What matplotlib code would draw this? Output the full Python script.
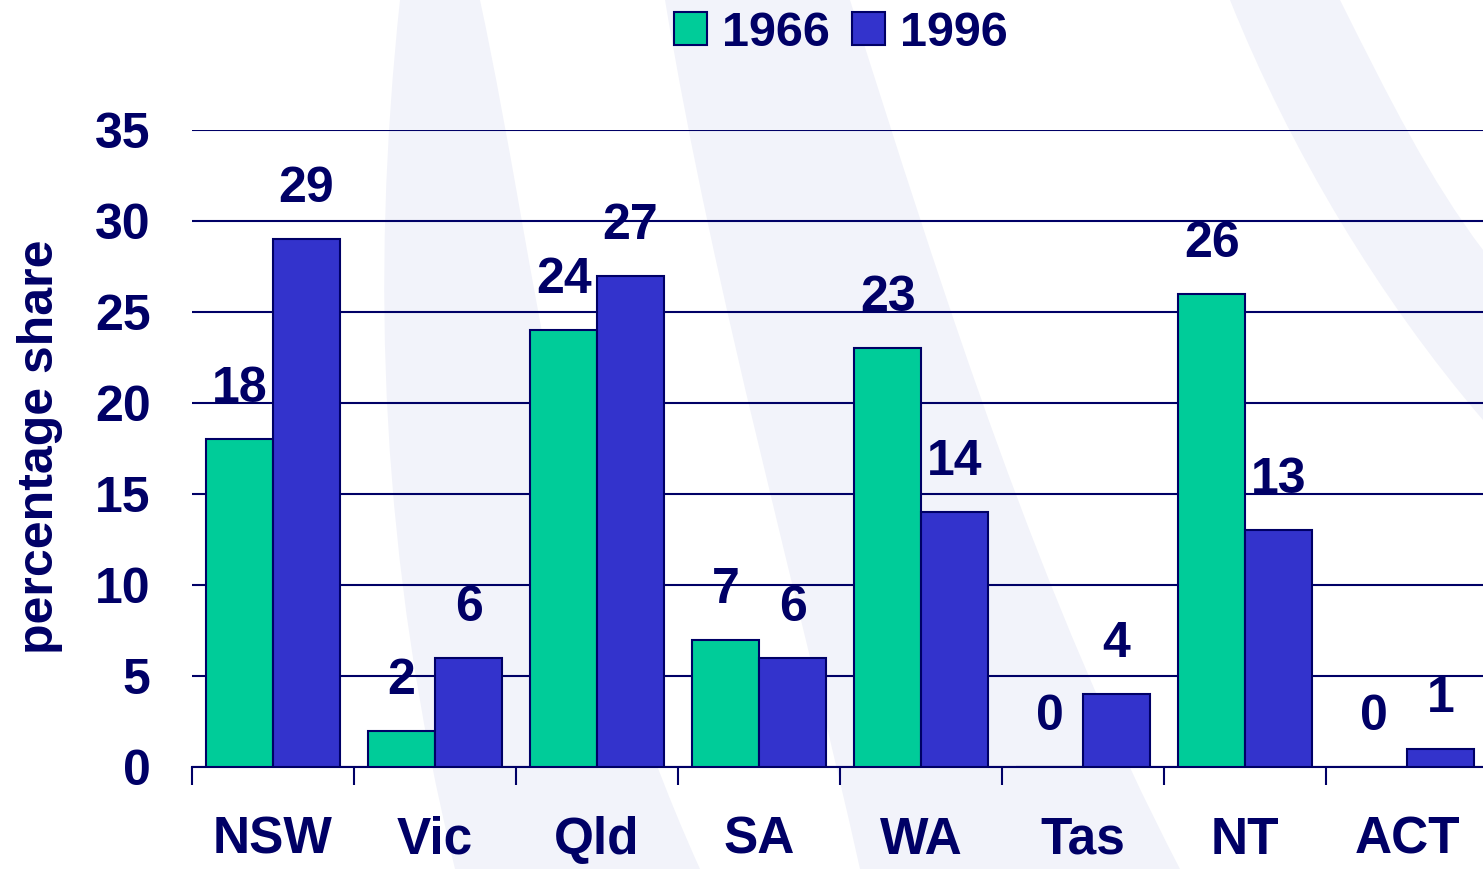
import numpy as np
import matplotlib
matplotlib.use("Agg")
import matplotlib.pyplot as plt
from matplotlib.patches import Patch, PathPatch
from matplotlib.path import Path

states = ["NSW", "Vic", "Qld", "SA", "WA", "Tas", "NT", "ACT"]
share_1966 = [18, 2, 24, 7, 23, 0, 26, 0]
share_1996 = [29, 6, 27, 6, 14, 4, 13, 1]
yticks = [0, 5, 10, 15, 20, 25, 30, 35]

navy = "#000066"
green = "#00CC99"
blue = "#3333CC"
narrow = ["Liberation Sans Narrow", "Liberation Sans", "DejaVu Sans"]
wide = ["Liberation Sans", "DejaVu Sans"]

W, H = 1483, 869
fig = plt.figure(figsize=(W / 100, H / 100), dpi=100)

# faint background swooshes (watermark), in pixel coords from the top-left
swooshes = [
    ([(400, 0), (370, 280), (380, 560), (455, 869)], [(700, 869), (560, 560), (540, 280), (480, 0)]),
    ([(665, 0), (715, 300), (800, 600), (860, 869)], [(1180, 869), (1040, 600), (945, 300), (850, 0)]),
    ([(1230, 0), (1290, 150), (1380, 300), (1483, 420)], [(1483, 250), (1430, 180), (1390, 100), (1340, 0)]),
]
for left, right in swooshes:
    pts = [(px / W, 1 - py / H) for px, py in left + right]
    codes = [Path.MOVETO, Path.CURVE4, Path.CURVE4, Path.CURVE4,
             Path.LINETO, Path.CURVE4, Path.CURVE4, Path.CURVE4]
    pts.append(pts[0])
    codes.append(Path.CLOSEPOLY)
    fig.add_artist(PathPatch(Path(pts, codes), facecolor="#F2F3FA", edgecolor="none",
                             transform=fig.transFigure, zorder=-5))

ax = fig.add_axes([0.1295, 0.1174, 0.874, 0.733])

x = np.arange(len(states))
w = 0.413
ax.bar(x - w / 2, share_1966, w, color=green, edgecolor=navy, linewidth=1.5, zorder=3)
ax.bar(x + w / 2, share_1996, w, color=blue, edgecolor=navy, linewidth=1.5, zorder=3)

for xi, v in zip(x - w / 2, share_1966):
    ax.annotate(str(v), (xi, v), xytext=(0, 36), textcoords="offset points",
                ha="center", va="center", fontsize=36, fontweight="bold",
                color=navy, family=narrow, zorder=4)
for xi, v in zip(x + w / 2, share_1996):
    ax.annotate(str(v), (xi, v), xytext=(0, 36), textcoords="offset points",
                ha="center", va="center", fontsize=36, fontweight="bold",
                color=navy, family=narrow, zorder=4)

ax.set_xlim(-0.5, len(states) - 0.5)
ax.set_ylim(0, 35)
ax.set_yticks(yticks)
ax.set_yticklabels([str(t) for t in yticks], fontsize=36, fontweight="bold",
                   color=navy, family=narrow)
ax.tick_params(axis="y", length=0, pad=30)
ax.yaxis.grid(True, color=navy, linewidth=1.5, zorder=0)
ax.set_axisbelow(True)

ax.set_xticks(x)
ax.set_xticklabels(states, fontsize=37, fontweight="bold", color=navy, family=wide)
ax.set_xticks(np.arange(len(states) + 1) - 0.5, minor=True)
ax.tick_params(axis="x", which="major", length=0, pad=35)
ax.tick_params(axis="x", which="minor", length=13, width=1.5, color=navy, direction="out")

for s in ["top", "right", "left"]:
    ax.spines[s].set_visible(False)
ax.spines["bottom"].set_color(navy)
ax.spines["bottom"].set_linewidth(1.5)
ax.patch.set_alpha(0)

fig.text(0.027, 0.486, "percentage share", rotation=90, ha="center", va="center",
         fontsize=36, fontweight="bold", color=navy, family=wide)

handles = [Patch(facecolor=green, edgecolor=navy, linewidth=1.5),
           Patch(facecolor=blue, edgecolor=navy, linewidth=1.5)]
leg = fig.legend(handles, ["1966", "1996"], loc="center", bbox_to_anchor=(0.567, 0.962),
                 ncol=2, frameon=False, handlelength=0.68, handleheight=0.68,
                 handletextpad=0.3, columnspacing=0.47,
                 prop={"family": wide, "weight": "bold", "size": 35})
for t in leg.get_texts():
    t.set_color(navy)

fig.savefig("out.png", dpi=100)
